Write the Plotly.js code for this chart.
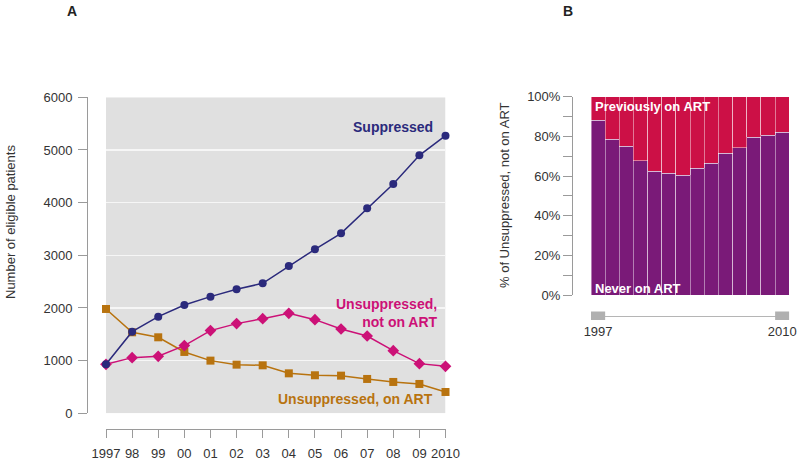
<!DOCTYPE html>
<html>
<head>
<meta charset="utf-8">
<script src="https://cdn.plot.ly/plotly-3.0.1.min.js"></script>
<style>
    html, body { margin: 0; padding: 0; background: #fff; }
    #chart { width: 800px; height: 460px; }
</style>
</head>
<body>
<div id="chart"></div>
<script>
    // Panel A: eligible patients per year
    const years = [1997, 1998, 1999, 2000, 2001, 2002, 2003, 2004, 2005, 2006, 2007, 2008, 2009, 2010];
    const yearLabels = ["1997", "98", "99", "00", "01", "02", "03", "04", "05", "06", "07", "08", "09", "2010"];
    const suppressed = [930, 1550, 1835, 2057, 2215, 2354, 2468, 2797, 3114, 3418, 3892, 4354, 4899, 5272];
    const unsuppNotOnArt = [930, 1057, 1082, 1285, 1570, 1703, 1797, 1899, 1778, 1601, 1468, 1190, 943, 892];
    const unsuppOnArt = [1981, 1538, 1443, 1165, 1000, 924, 911, 759, 722, 715, 652, 595, 557, 405];

    // Panel B: share of "unsuppressed, not on ART" (%)
    const neverOnArt = [88.1, 78.5, 75.0, 67.6, 62.5, 61.3, 60.3, 63.9, 66.4, 71.4, 74.3, 79.5, 80.5, 82.0];
    const previouslyOnArt = [11.9, 21.5, 25.0, 32.4, 37.5, 38.7, 39.7, 36.1, 33.6, 28.6, 25.7, 20.5, 19.5, 18.0];

    const pctTicks = [0, 10, 20, 30, 40, 50, 60, 70, 80, 90, 100];
    const pctLabels = ["0%", "", "20%", "", "40%", "", "60%", "", "80%", "", "100%"];

    const NAVY = "#2b2a7c";
    const MAGENTA = "#cc1177";
    const BROWN = "#b8730f";
    const PURPLE = "#7a1a78";
    const RED = "#cc1046";
    const AXIS = "#9a9a9a";
    const TEXT = "#333333";
    const FONT = "Liberation Sans, Arial, Helvetica, sans-serif";

    const W = 800, H = 460;
    const px = (x) => x / W;
    const py = (y) => (H - y) / H;

    function lineTrace(y, color, symbol, size) {
        return {
            type: "scatter",
            mode: "lines+markers",
            x: years,
            y: y,
            xaxis: "x",
            yaxis: "y",
            cliponaxis: false,
            line: { color: color, width: 1.5 },
            marker: { color: color, symbol: symbol, size: size },
            hoverinfo: "skip"
        };
    }

    const traces = [
        lineTrace(unsuppOnArt, BROWN, "square", 8),
        lineTrace(unsuppNotOnArt, MAGENTA, "diamond", 9),
        lineTrace(suppressed, NAVY, "circle", 8),
        {
            type: "bar",
            x: years,
            y: neverOnArt,
            xaxis: "x2",
            yaxis: "y2",
            width: 1,
            marker: { color: PURPLE, line: { color: "rgba(255,255,255,0.55)", width: 0.8 } },
            hoverinfo: "skip"
        },
        {
            type: "bar",
            x: years,
            y: previouslyOnArt,
            xaxis: "x2",
            yaxis: "y2",
            width: 1,
            marker: { color: RED, line: { color: "rgba(255,255,255,0.55)", width: 0.8 } },
            hoverinfo: "skip"
        }
    ];

    const tickFont = { family: FONT, size: 13, color: TEXT };

    function label(text, x, y, opts) {
        return Object.assign({
            text: text, xref: "paper", yref: "paper", x: px(x), y: py(y),
            xanchor: "center", yanchor: "middle", showarrow: false,
            font: { family: FONT, size: 13, color: TEXT }
        }, opts || {});
    }

    const layout = {
        width: W,
        height: H,
        margin: { l: 0, r: 0, t: 0, b: 0 },
        paper_bgcolor: "#ffffff",
        plot_bgcolor: "rgba(0,0,0,0)",
        showlegend: false,
        barmode: "stack",
        bargap: 0,
        font: { family: FONT, color: TEXT },
        xaxis: {
            domain: [px(106), px(445.5)],
            range: [1997, 2010],
            anchor: "free",
            position: py(429),
            tickvals: years,
            ticktext: yearLabels,
            ticks: "outside",
            ticklen: 8,
            tickcolor: AXIS,
            ticklabelstandoff: 4,
            showline: true,
            linecolor: AXIS,
            linewidth: 1,
            showgrid: false,
            zeroline: false,
            tickfont: tickFont,
            automargin: false,
            fixedrange: true
        },
        yaxis: {
            domain: [py(413.3), py(97.3)],
            range: [0, 6000],
            anchor: "free",
            position: px(87),
            tickvals: [0, 1000, 2000, 3000, 4000, 5000, 6000],
            ticks: "outside",
            ticklen: 9,
            tickcolor: AXIS,
            ticklabelstandoff: 3,
            showline: true,
            linecolor: AXIS,
            linewidth: 1,
            showgrid: true,
            gridcolor: "#f6f6f6",
            gridwidth: 1.2,
            zeroline: false,
            tickfont: tickFont,
            automargin: false,
            fixedrange: true
        },
        xaxis2: {
            domain: [px(591), px(789.3)],
            range: [1996.5, 2010.5],
            anchor: "free",
            position: py(315.7),
            tickvals: [1997, 2010],
            ticktext: ["1997", "2010"],
            ticks: "outside",
            ticklen: 3,
            tickcolor: "rgba(0,0,0,0)",
            showline: true,
            linecolor: "#b5b5b5",
            linewidth: 1.2,
            showgrid: false,
            zeroline: false,
            tickfont: tickFont,
            automargin: false,
            fixedrange: true
        },
        yaxis2: {
            domain: [py(295), py(96.7)],
            range: [0, 100],
            anchor: "free",
            position: px(572),
            tickvals: pctTicks,
            ticktext: pctLabels,
            ticks: "outside",
            ticklen: 9,
            tickcolor: AXIS,
            showline: true,
            linecolor: AXIS,
            linewidth: 1,
            showgrid: false,
            zeroline: false,
            tickfont: tickFont,
            automargin: false,
            fixedrange: true
        },
        shapes: [
            // grey plotting panel behind panel A
            { type: "rect", xref: "x", yref: "y", x0: years[0], x1: years[years.length - 1], y0: 0, y1: 6000,
              fillcolor: "#e0e0e0", line: { width: 0 }, layer: "below" },
            // end blocks on the panel B time strip
            { type: "rect", xref: "x2", yref: "paper", x0: years[0] - 0.5, x1: years[0] + 0.5,
              y0: py(320), y1: py(311.5), fillcolor: "#b0b0b0", line: { width: 0 } },
            { type: "rect", xref: "x2", yref: "paper", x0: years[years.length - 1] - 0.5, x1: years[years.length - 1] + 0.5,
              y0: py(320), y1: py(311.5), fillcolor: "#b0b0b0", line: { width: 0 } }
        ],
        annotations: [
            label("<b>A</b>", 72, 11, { font: { family: FONT, size: 14, color: "#222" } }),
            label("<b>B</b>", 568, 11, { font: { family: FONT, size: 14, color: "#222" } }),
            label("Number of eligible patients", 10, 222, { textangle: -90 }),
            label("% of Unsuppressed, not on ART", 504, 195, { textangle: -90 }),
            { text: "<b>Suppressed</b>", xref: "x", yref: "y", x: 2009.6, y: 5430, xanchor: "right", yanchor: "middle",
              showarrow: false, font: { family: FONT, size: 14, color: NAVY } },
            { text: "<b>Unsuppressed,<br>not on ART</b>", xref: "x", yref: "y", x: 2009.8, y: 1914, xanchor: "right",
              yanchor: "middle", align: "right", showarrow: false, font: { family: FONT, size: 14, color: MAGENTA } },
            { text: "<b>Unsuppressed, on ART</b>", xref: "x", yref: "y", x: 2009.6, y: 266, xanchor: "right",
              yanchor: "middle", showarrow: false, font: { family: FONT, size: 14, color: BROWN } },
            label("<b>Previously on ART</b>", 593, 106.7, { xanchor: "left", font: { family: FONT, size: 13, color: "#ffffff" } }),
            label("<b>Never on ART</b>", 593, 288.5, { xanchor: "left", font: { family: FONT, size: 13, color: "#ffffff" } })
        ]
    };

    Plotly.newPlot(document.getElementById("chart"), traces, layout, { displayModeBar: false, staticPlot: true });
</script>
</body>
</html>
